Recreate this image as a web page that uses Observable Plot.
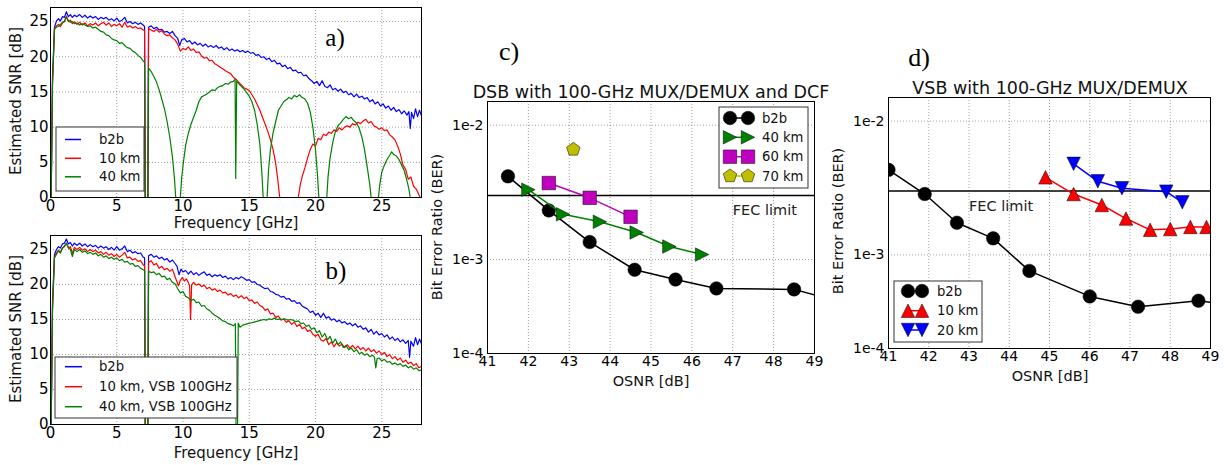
<!DOCTYPE html>
<html><head><meta charset="utf-8">
<script src="https://cdn.jsdelivr.net/npm/d3@7"></script>
<script src="https://cdn.jsdelivr.net/npm/@observablehq/plot@0.6"></script>
<style>
html,body{margin:0;padding:0;background:#fff;}
#fig{position:relative;width:1230px;height:465px;overflow:hidden;background:#fff;}
#fig > svg{position:absolute;overflow:visible;}
</style></head><body><div id="fig"></div>
<script>
// ---------- Panel a) SNR spectra, DSB ----------
const aB2b = [[0.05,0],[0.15,17],[0.3,24.2],[0.45,25.1],[0.6,25.4],[0.75,25.1],[0.9,25.7],[1.05,25.6],[1.2,26.4],[1.35,25.7],[1.5,26.0],[1.65,25.6],[1.8,25.9],[2.0,25.7],[2.2,26.0],[2.4,25.6],[2.6,25.9],[2.8,25.5],[3.0,25.8],[3.2,25.5],[3.4,25.7],[3.6,25.3],[3.8,25.6],[4.0,25.4],[4.2,25.6],[4.4,25.2],[4.6,25.4],[4.8,25.1],[5.0,25.5],[5.2,25.0],[5.4,25.2],[5.6,25.6],[5.8,24.8],[6.0,25.0],[6.2,24.7],[6.4,24.9],[6.6,24.6],[6.8,24.8],[7.0,24.5],[7.1,24.3],[7.15,0],[7.35,0],[7.4,24.2],[7.6,24.4],[7.8,24.0],[8.0,24.2],[8.2,23.8],[8.4,23.9],[8.6,23.5],[8.8,23.6],[9.0,23.3],[9.2,23.6],[9.4,23.0],[9.6,22.6],[9.75,21.6],[9.9,22.4],[10.1,22.6],[10.3,22.1],[10.5,22.3],[10.7,21.8],[10.9,22.1],[11.1,21.7],[11.3,21.9],[11.5,21.5],[11.7,21.8],[11.9,21.4],[12.1,21.6],[12.3,21.3],[12.5,21.6],[12.7,21.2],[12.9,21.4],[13.1,21.0],[13.3,21.3],[13.5,20.9],[13.7,21.1],[13.9,20.8],[14.1,21.0],[14.3,20.7],[14.5,20.9],[14.7,20.6],[14.9,20.8],[15.1,20.5],[15.3,20.6],[15.5,20.2],[15.7,20.3],[15.9,19.9],[16.1,20.0],[16.3,19.6],[16.5,19.8],[16.7,19.3],[16.9,19.5],[17.1,19.0],[17.3,19.1],[17.5,18.6],[17.7,18.8],[17.9,18.3],[18.1,18.5],[18.3,18.0],[18.5,18.1],[18.7,17.7],[18.9,17.8],[19.1,17.3],[19.3,17.4],[19.5,16.9],[19.7,16.6],[19.9,16.2],[20.1,16.5],[20.3,15.9],[20.5,16.6],[20.7,15.8],[20.9,15.6],[21.1,16.0],[21.3,15.3],[21.5,15.5],[21.7,15.1],[21.9,15.4],[22.1,14.9],[22.3,15.1],[22.5,14.6],[22.7,14.8],[22.9,14.3],[23.1,14.7],[23.3,14.2],[23.5,14.4],[23.7,14.0],[23.9,14.2],[24.1,13.6],[24.3,13.9],[24.5,13.3],[24.7,13.6],[24.9,13.0],[25.1,13.3],[25.3,12.7],[25.5,13.0],[25.7,12.4],[25.9,12.8],[26.1,12.2],[26.3,12.5],[26.5,11.9],[26.7,12.3],[26.9,11.7],[27.05,12.2],[27.15,9.8],[27.25,12.1],[27.4,11.2],[27.55,12.6],[27.7,11.5],[27.85,12.4],[28.0,11.6]];
const a10km = [[0.05,0],[0.15,16],[0.3,24.0],[0.45,24.4],[0.6,24.6],[0.75,24.3],[0.9,24.8],[1.05,25.0],[1.2,25.8],[1.35,25.0],[1.5,25.2],[1.65,24.7],[1.8,25.0],[2.0,24.6],[2.2,24.9],[2.4,24.5],[2.6,24.8],[2.8,24.4],[3.0,24.7],[3.2,24.5],[3.4,24.8],[3.6,24.4],[3.8,24.7],[4.0,24.9],[4.2,24.5],[4.4,24.8],[4.6,24.3],[4.8,24.6],[5.0,24.4],[5.2,24.7],[5.4,24.2],[5.6,24.9],[5.8,24.2],[6.0,24.4],[6.2,24.1],[6.4,24.3],[6.6,24.0],[6.8,24.1],[7.0,23.8],[7.1,23.7],[7.15,0],[7.35,0],[7.4,24.0],[7.6,23.8],[7.8,23.6],[8.0,23.9],[8.2,23.5],[8.4,23.7],[8.6,23.2],[8.8,23.0],[9.0,23.1],[9.2,22.7],[9.4,22.4],[9.6,21.8],[9.8,20.8],[10.0,21.2],[10.2,21.0],[10.4,21.4],[10.6,20.9],[10.8,21.1],[11.0,20.6],[11.2,20.7],[11.4,20.1],[11.6,19.8],[11.8,19.9],[12.0,19.4],[12.2,19.5],[12.4,19.0],[12.6,18.8],[12.8,18.5],[13.0,18.3],[13.2,18.0],[13.4,17.8],[13.6,17.6],[13.8,17.1],[14.0,16.8],[14.2,16.4],[14.4,16.0],[14.6,15.6],[14.8,15.4],[15.0,15.2],[15.2,14.6],[15.4,14.0],[15.6,13.2],[15.8,12.4],[16.0,11.4],[16.2,10.4],[16.4,9.4],[16.6,8.2],[16.8,6.8],[17.0,4.8],[17.15,2.6],[17.3,0],[18.0,null],[18.7,0],[18.85,1.8],[19.0,3.0],[19.2,4.2],[19.4,5.6],[19.6,6.8],[19.8,7.6],[20.0,7.3],[20.2,8.4],[20.4,8.2],[20.6,9.0],[20.8,8.8],[21.0,9.3],[21.2,9.1],[21.4,9.6],[21.6,9.4],[21.8,9.9],[22.0,9.6],[22.2,10.0],[22.4,10.2],[22.6,10.0],[22.8,10.5],[23.0,10.3],[23.2,10.7],[23.4,10.5],[23.6,10.9],[23.8,11.1],[24.0,10.6],[24.2,10.8],[24.4,10.2],[24.6,10.0],[24.8,9.7],[25.0,9.9],[25.2,9.5],[25.4,9.6],[25.6,8.9],[25.8,8.6],[26.0,8.2],[26.2,7.3],[26.4,6.2],[26.6,4.6],[26.8,4.0],[27.0,2.6],[27.2,2.9],[27.4,1.6],[27.6,1.2],[27.8,0.4],[27.9,0]];
const a40km = [[0.05,0],[0.15,16],[0.3,23.9],[0.45,24.2],[0.6,24.3],[0.75,24.6],[0.9,24.9],[1.05,25.0],[1.2,25.6],[1.35,25.1],[1.5,24.9],[1.65,25.0],[1.8,24.7],[2.0,24.8],[2.2,24.5],[2.4,24.7],[2.6,24.5],[2.8,24.3],[3.0,24.4],[3.2,24.1],[3.4,24.2],[3.6,23.9],[3.8,23.6],[4.0,23.5],[4.2,23.1],[4.4,23.0],[4.6,22.6],[4.8,22.4],[5.0,22.3],[5.2,21.9],[5.4,22.0],[5.6,21.6],[5.8,21.3],[6.0,21.2],[6.2,20.8],[6.4,20.6],[6.6,20.2],[6.8,19.9],[7.0,19.4],[7.1,19.2],[7.15,0],[7.35,0],[7.4,18.4],[7.6,17.9],[7.8,17.2],[8.0,16.4],[8.2,15.3],[8.4,14.0],[8.6,12.6],[8.8,10.8],[9.0,8.6],[9.2,5.8],[9.35,2.8],[9.45,0],[9.6,null],[9.8,0],[9.9,2.8],[10.05,5.3],[10.2,7.4],[10.4,9.1],[10.6,10.4],[10.8,11.4],[11.0,12.4],[11.2,13.6],[11.4,14.3],[11.6,14.5],[11.8,14.7],[12.0,15.0],[12.2,15.3],[12.4,15.2],[12.6,15.6],[12.8,15.8],[13.0,15.9],[13.2,16.2],[13.4,16.1],[13.6,16.4],[13.8,16.5],[13.93,16.8],[13.98,2.7],[14.05,16.5],[14.2,16.2],[14.4,15.8],[14.6,15.4],[14.8,14.9],[15.0,14.4],[15.2,13.6],[15.4,12.4],[15.6,10.4],[15.8,7.6],[15.95,3.6],[16.05,0],[16.2,null],[16.35,0],[16.45,3.8],[16.6,6.8],[16.8,9.2],[17.0,10.8],[17.2,12.4],[17.4,13.0],[17.6,13.6],[17.8,13.9],[18.0,14.2],[18.2,14.0],[18.4,14.5],[18.6,14.3],[18.8,14.6],[19.0,14.2],[19.2,14.0],[19.4,13.4],[19.6,12.2],[19.8,10.0],[20.0,6.8],[20.15,3.2],[20.25,0],[20.5,null],[20.85,0],[20.95,3.0],[21.1,5.6],[21.3,7.8],[21.5,9.4],[21.7,10.2],[21.9,10.6],[22.1,11.1],[22.3,11.5],[22.5,11.2],[22.7,11.4],[22.9,10.9],[23.1,10.6],[23.3,9.8],[23.5,8.6],[23.7,6.8],[23.9,4.4],[24.1,1.8],[24.2,0],[24.5,null],[24.75,0],[24.85,1.8],[25.0,3.6],[25.2,4.6],[25.4,5.4],[25.6,6.0],[25.75,6.5],[25.9,6.1],[26.1,5.9],[26.3,5.4],[26.5,4.6],[26.7,3.8],[26.9,2.4],[27.05,1.2],[27.15,0]];

// ---------- Panel b) SNR spectra, VSB 100GHz ----------
const bB2b = [[0.05,0],[0.15,17.5],[0.3,24.3],[0.45,25.0],[0.6,25.4],[0.75,25.2],[0.9,25.8],[1.05,25.9],[1.2,26.5],[1.35,25.8],[1.5,26.0],[1.65,25.5],[1.8,25.9],[2.0,25.6],[2.2,25.9],[2.4,25.5],[2.6,25.8],[2.8,25.4],[3.0,25.7],[3.2,25.4],[3.4,25.6],[3.6,25.2],[3.8,25.5],[4.0,25.2],[4.2,25.4],[4.4,25.0],[4.6,25.3],[4.8,24.9],[5.0,25.4],[5.2,24.9],[5.4,25.1],[5.6,25.5],[5.8,24.7],[6.0,24.9],[6.2,24.5],[6.4,24.7],[6.6,24.4],[6.8,24.5],[7.0,23.9],[7.1,23.8],[7.15,0],[7.35,0],[7.4,24.1],[7.6,24.3],[7.8,23.9],[8.0,24.1],[8.2,23.7],[8.4,23.9],[8.6,23.5],[8.8,23.7],[9.0,23.2],[9.2,23.5],[9.4,23.0],[9.55,22.6],[9.7,21.4],[9.85,22.2],[10.0,21.8],[10.2,22.0],[10.4,21.5],[10.6,21.9],[10.8,21.4],[11.0,21.7],[11.2,21.3],[11.4,21.6],[11.6,21.8],[11.8,21.3],[12.0,21.5],[12.2,21.1],[12.4,21.4],[12.6,21.2],[12.8,21.4],[13.0,21.0],[13.2,21.2],[13.4,20.8],[13.6,21.0],[13.8,20.7],[14.0,21.0],[14.2,20.8],[14.4,21.1],[14.6,20.9],[14.8,20.6],[15.0,20.7],[15.2,20.3],[15.4,20.4],[15.6,20.0],[15.8,19.9],[16.0,19.6],[16.2,19.4],[16.4,19.5],[16.6,19.0],[16.8,18.9],[17.0,18.6],[17.2,18.5],[17.4,18.2],[17.6,18.3],[17.8,17.9],[18.0,18.0],[18.2,17.6],[18.4,17.7],[18.6,17.3],[18.8,17.4],[19.0,16.9],[19.2,16.7],[19.4,16.5],[19.6,16.0],[19.8,16.2],[20.0,15.6],[20.2,15.9],[20.4,15.3],[20.6,15.9],[20.8,15.2],[21.0,15.4],[21.2,14.9],[21.4,15.1],[21.6,14.7],[21.8,14.9],[22.0,14.5],[22.2,14.7],[22.4,14.3],[22.6,14.5],[22.8,14.1],[23.0,14.4],[23.2,13.9],[23.4,14.1],[23.6,13.6],[23.8,13.8],[24.0,13.2],[24.2,13.6],[24.4,12.9],[24.6,13.3],[24.8,12.8],[25.0,13.0],[25.2,12.5],[25.4,12.8],[25.6,12.2],[25.8,12.5],[26.0,12.0],[26.2,12.3],[26.4,11.8],[26.6,12.1],[26.8,11.6],[27.0,12.0],[27.1,9.6],[27.2,11.9],[27.4,11.2],[27.55,12.4],[27.7,11.4],[27.85,12.2],[28.0,11.5]];
const b10km = [[0.05,0],[0.15,16.5],[0.3,24.0],[0.45,24.5],[0.6,24.9],[0.75,24.6],[0.9,25.2],[1.05,25.4],[1.2,25.9],[1.35,25.2],[1.5,25.4],[1.65,24.4],[1.8,25.3],[2.0,25.0],[2.2,25.3],[2.4,24.9],[2.6,25.1],[2.8,24.7],[3.0,25.0],[3.2,24.7],[3.4,24.9],[3.6,24.5],[3.8,24.7],[4.0,24.3],[4.2,24.6],[4.4,24.2],[4.6,24.4],[4.8,24.0],[5.0,24.3],[5.2,23.9],[5.4,24.2],[5.6,24.6],[5.8,23.8],[6.0,23.9],[6.2,23.5],[6.4,23.7],[6.6,23.3],[6.8,23.4],[7.0,22.8],[7.1,22.7],[7.15,0],[7.35,0],[7.4,23.2],[7.6,23.4],[7.8,22.8],[8.0,23.0],[8.2,22.3],[8.4,22.6],[8.6,22.1],[8.8,22.3],[9.0,21.9],[9.2,22.2],[9.35,21.4],[9.5,20.6],[9.65,19.8],[9.8,20.6],[9.95,21.0],[10.1,20.5],[10.25,20.8],[10.4,20.3],[10.5,19.8],[10.57,15.0],[10.65,19.9],[10.8,20.3],[11.0,19.9],[11.2,20.1],[11.4,19.7],[11.6,19.9],[11.8,19.4],[12.0,19.6],[12.2,19.2],[12.4,19.4],[12.6,19.0],[12.8,19.2],[13.0,18.8],[13.2,18.9],[13.4,18.5],[13.6,18.7],[13.8,18.3],[14.0,18.5],[14.2,18.1],[14.4,18.4],[14.6,18.0],[14.8,18.2],[15.0,17.7],[15.2,17.8],[15.4,17.3],[15.6,17.5],[15.8,17.0],[16.0,16.8],[16.2,16.3],[16.4,16.5],[16.6,15.8],[16.8,15.9],[17.0,15.3],[17.2,15.5],[17.4,14.9],[17.6,15.1],[17.8,14.6],[18.0,14.8],[18.2,14.3],[18.4,14.6],[18.6,14.0],[18.8,14.3],[19.0,13.7],[19.2,13.9],[19.4,13.3],[19.6,13.5],[19.8,12.9],[20.0,12.6],[20.2,12.9],[20.4,12.1],[20.6,11.9],[20.8,12.3],[21.0,11.4],[21.2,11.8],[21.4,11.1],[21.6,11.7],[21.8,11.2],[22.0,11.5],[22.2,11.0],[22.4,11.4],[22.6,10.9],[22.8,11.3],[23.0,10.8],[23.2,11.2],[23.4,10.7],[23.6,11.0],[23.8,10.5],[24.0,10.9],[24.2,10.4],[24.4,10.7],[24.6,10.2],[24.8,10.5],[25.0,10.0],[25.2,10.3],[25.4,9.7],[25.6,10.0],[25.8,9.4],[26.0,9.7],[26.2,9.2],[26.4,9.5],[26.6,8.9],[26.8,9.2],[27.0,8.7],[27.2,8.9],[27.4,8.4],[27.6,8.7],[27.8,8.1],[28.0,8.3]];
const b40km = [[0.05,0],[0.15,16],[0.3,23.8],[0.45,24.3],[0.6,24.8],[0.75,24.5],[0.9,25.2],[1.05,25.5],[1.2,25.9],[1.35,25.3],[1.5,25.0],[1.65,24.0],[1.8,25.0],[2.0,24.7],[2.2,25.0],[2.4,24.6],[2.6,24.8],[2.8,24.4],[3.0,24.6],[3.2,24.3],[3.4,24.5],[3.6,24.1],[3.8,24.3],[4.0,23.9],[4.2,24.1],[4.4,23.7],[4.6,23.9],[4.8,23.6],[5.0,23.8],[5.2,23.4],[5.4,23.6],[5.6,23.2],[5.8,23.3],[6.0,22.9],[6.2,23.0],[6.4,22.6],[6.6,22.7],[6.8,22.3],[7.0,22.1],[7.1,22.0],[7.15,0],[7.35,0],[7.4,21.9],[7.6,21.7],[7.8,21.8],[8.0,21.4],[8.2,21.6],[8.4,21.1],[8.6,21.2],[8.8,20.7],[9.0,20.9],[9.2,20.3],[9.4,20.1],[9.6,19.4],[9.8,18.8],[10.0,19.0],[10.2,18.3],[10.4,18.1],[10.6,17.7],[10.8,17.9],[11.0,17.4],[11.2,17.5],[11.4,16.9],[11.6,17.0],[11.8,16.5],[12.0,16.3],[12.2,15.9],[12.4,15.6],[12.6,15.4],[12.8,15.1],[13.0,14.8],[13.2,14.7],[13.4,14.4],[13.6,14.3],[13.8,14.1],[13.95,14.4],[14.0,0],[14.12,0],[14.17,14.5],[14.3,13.9],[14.5,14.2],[14.7,14.3],[14.9,14.4],[15.1,14.5],[15.3,14.6],[15.5,14.7],[15.7,14.8],[15.9,14.9],[16.1,15.0],[16.3,14.9],[16.5,15.1],[16.7,15.0],[16.9,15.2],[17.1,15.0],[17.3,15.1],[17.5,15.0],[17.7,15.1],[17.9,14.9],[18.1,15.0],[18.3,14.9],[18.5,14.7],[18.7,14.8],[18.9,14.4],[19.1,14.5],[19.3,14.0],[19.5,14.2],[19.7,13.6],[19.9,13.8],[20.1,13.1],[20.3,13.4],[20.5,12.5],[20.7,13.0],[20.9,12.1],[21.1,12.6],[21.3,11.6],[21.5,12.2],[21.7,11.4],[21.9,11.8],[22.1,11.0],[22.3,11.3],[22.5,10.7],[22.7,10.9],[22.9,10.4],[23.1,10.7],[23.3,10.1],[23.5,10.3],[23.7,9.9],[23.9,10.1],[24.1,9.7],[24.3,9.9],[24.45,9.6],[24.55,8.1],[24.65,9.4],[24.8,9.5],[25.0,9.1],[25.2,9.3],[25.4,8.9],[25.6,9.0],[25.8,8.6],[26.0,8.8],[26.2,8.5],[26.4,8.7],[26.6,8.3],[26.8,8.5],[27.0,8.1],[27.2,8.3],[27.4,7.9],[27.6,8.1],[27.8,7.7],[28.0,7.8]];

const freqTicks = [0, 5, 10, 15, 20, 25];
const snrTicks = [0, 5, 10, 15, 20, 25];
const freqDomain = [0, 28];
const snrDomain = [0, 27];

// ---------- Panel c) BER, DSB ----------
const osnrC_b2b = [41.5, 42.5, 43.5, 44.6, 45.6, 46.6, 48.5, 50.5];
const berC_b2b  = [4.16e-3, 2.32e-3, 1.35e-3, 8.4e-4, 7.1e-4, 6.1e-4, 6.0e-4, 4.1e-4];
const osnrC_40  = [42.0, 42.85, 43.75, 44.65, 45.45, 46.25];
const berC_40   = [3.31e-3, 2.17e-3, 1.91e-3, 1.59e-3, 1.25e-3, 1.09e-3];
const osnrC_60  = [42.5, 43.5, 44.5];
const berC_60   = [3.71e-3, 2.88e-3, 2.08e-3];
const osnrC_70  = [43.1];
const berC_70   = [6.6e-3];

// ---------- Panel d) BER, VSB ----------
const osnrD_b2b = [41.0, 41.9, 42.7, 43.6, 44.5, 46.0, 47.2, 48.7, 50.3];
const berD_b2b  = [4.32e-3, 2.85e-3, 1.74e-3, 1.33e-3, 7.6e-4, 4.9e-4, 4.1e-4, 4.55e-4, 3.9e-4];
const osnrD_10  = [44.9, 45.6, 46.3, 46.9, 47.5, 48.0, 48.5, 48.9];
const berD_10   = [3.8e-3, 2.85e-3, 2.36e-3, 1.87e-3, 1.54e-3, 1.56e-3, 1.62e-3, 1.62e-3];
const osnrD_20  = [45.6, 46.2, 46.8, 47.9, 48.3];
const berD_20   = [4.79e-3, 3.55e-3, 3.15e-3, 2.97e-3, 2.47e-3];

const fecLimit = 3.0e-3;
const osnrDomain = [41, 49];
const osnrTicks = [41, 42, 43, 44, 45, 46, 47, 48, 49];
const berDomain = [2e-4, 1.5e-2];
const berTicks = [2e-4, 1e-3, 1e-2];
const berTickLabels = ["1e-4", "1e-3", "1e-2"];
const berGridValues = [1e-3, 1e-2];

const titles = {c: "DSB with 100-GHz MUX/DEMUX and DCF", d: "VSB with 100-GHz MUX/DEMUX"};

// ---------- helpers ----------
const FONT = "DejaVu Sans";
const C = {blue:"#0000ff", red:"#ff0000", green:"#008000", black:"#000000", magenta:"#bf00bf", yellow:"#bfbf00"};
const rad = s => Math.sqrt(s / Math.PI);
const symCircle = {draw(c, s){const r=rad(s); c.moveTo(r,0); c.arc(0,0,r,0,2*Math.PI);}};
const symSquare = {draw(c, s){const r=rad(s); c.moveTo(-r,-r); c.lineTo(r,-r); c.lineTo(r,r); c.lineTo(-r,r); c.closePath();}};
const symTriRight = {draw(c, s){const r=rad(s); c.moveTo(r,0); c.lineTo(-r,-r); c.lineTo(-r,r); c.closePath();}};
const symTriUp = {draw(c, s){const r=rad(s); c.moveTo(0,-r); c.lineTo(r,r); c.lineTo(-r,r); c.closePath();}};
const symTriDown = {draw(c, s){const r=rad(s); c.moveTo(0,r); c.lineTo(r,-r); c.lineTo(-r,-r); c.closePath();}};
const symPent = {draw(c, s){const r=rad(s)*1.05; for(let k=0;k<5;k++){const a=(-90+72*k)*Math.PI/180; const x=r*Math.cos(a), y=r*Math.sin(a); if(k===0) c.moveTo(x,y); else c.lineTo(x,y);} c.closePath();}};
const MR = 6.75;

const fig = document.getElementById("fig");
const zip = (xs, ys) => xs.map((x, i) => ({x, y: ys[i]}));

function snrPanel(series, top, height, mb) {
  const svg = Plot.plot({
    width: 430, height,
    marginLeft: 50, marginRight: 9, marginTop: 7, marginBottom: mb,
    x: {domain: freqDomain},
    y: {domain: snrDomain},
    style: {fontFamily: FONT, fontSize: "15px", background: "transparent", overflow: "visible"},
    marks: [
      Plot.gridX({ticks: freqTicks.slice(1), stroke: "#777", strokeOpacity: 1, strokeWidth: 0.7, strokeDasharray: "1,2"}),
      Plot.gridY({ticks: snrTicks.slice(1), stroke: "#777", strokeOpacity: 1, strokeWidth: 0.7, strokeDasharray: "1,2"}),
      ...series.map(([data, color]) => Plot.line(data, {x: d => d[0], y: d => d[1], stroke: color, strokeWidth: 1.2, clip: true})),
      Plot.axisX({ticks: freqTicks, tickSize: 0, tickPadding: 3, fontSize: 15, label: null, tickFormat: d => String(d)}),
      Plot.axisY({ticks: snrTicks, tickSize: 0, tickPadding: 2, fontSize: 15, label: null, tickFormat: d => String(d)}),
      Plot.frame({stroke: "#000", strokeWidth: 1})
    ]
  });
  svg.style.left = "0px"; svg.style.top = top + "px";
  fig.appendChild(svg);
}

snrPanel([[aB2b, C.blue], [a10km, C.red], [a40km, C.green]], 0, 230, 33);
snrPanel([[bB2b, C.blue], [b10km, C.red], [b40km, C.green]], 228, 237, 41);

const labelMap = new Map(berTicks.map((t, i) => [t, berTickLabels[i]]));
function berPanel(series, fecText, pos) {
  const marks = [
    Plot.gridX({ticks: osnrTicks.slice(1, -1), stroke: "#777", strokeOpacity: 1, strokeWidth: 0.7, strokeDasharray: "1,2"}),
    Plot.gridY({ticks: berGridValues, stroke: "#777", strokeOpacity: 1, strokeWidth: 0.7, strokeDasharray: "1,2"}),
    Plot.ruleY([fecLimit], {stroke: "#000", strokeWidth: 1.5})
  ];
  for (const s of series) {
    const data = zip(s.x, s.y);
    if (data.length > 1) marks.push(Plot.line(data, {x: "x", y: "y", stroke: s.color, strokeWidth: 1.5, clip: true}));
    marks.push(Plot.dot(data, {x: "x", y: "y", r: MR, symbol: s.symbol, fill: s.color, stroke: "#000", strokeWidth: 0.5, clip: true}));
  }
  marks.push(
    Plot.text([fecText], {x: "x", y: "y", text: "text", textAnchor: "start", lineAnchor: "middle", fontSize: 14.5, fill: "#222"}),
    Plot.axisX({ticks: osnrTicks, tickSize: 0, tickPadding: 3, fontSize: 14, label: null, tickFormat: d => String(d)}),
    Plot.axisY({ticks: berTicks, tickSize: 0, tickPadding: 4, fontSize: 14, label: null, tickFormat: d => labelMap.get(d)}),
    Plot.frame({stroke: "#000", strokeWidth: 1})
  );
  const svg = Plot.plot({
    width: pos.w, height: pos.h,
    marginLeft: pos.ml, marginRight: pos.mr, marginTop: pos.mt, marginBottom: pos.mb,
    x: {domain: osnrDomain},
    y: {type: "log", domain: berDomain},
    style: {fontFamily: FONT, fontSize: "14px", background: "transparent", overflow: "visible"},
    marks
  });
  svg.style.left = pos.left + "px"; svg.style.top = pos.top + "px";
  fig.appendChild(svg);
}

const seriesC = [
  {name: "b2b", x: osnrC_b2b, y: berC_b2b, color: C.black, symbol: symCircle},
  {name: "40 km", x: osnrC_40, y: berC_40, color: C.green, symbol: symTriRight},
  {name: "60 km", x: osnrC_60, y: berC_60, color: C.magenta, symbol: symSquare},
  {name: "70 km", x: osnrC_70, y: berC_70, color: C.yellow, symbol: symPent}
];
const seriesD = [
  {name: "b2b", x: osnrD_b2b, y: berD_b2b, color: C.black, symbol: symCircle},
  {name: "10 km", x: osnrD_10, y: berD_10, color: C.red, symbol: symTriUp},
  {name: "20 km", x: osnrD_20, y: berD_20, color: C.blue, symbol: symTriDown}
];
berPanel(seriesC, {x: 47.0, y: 2.33e-3, text: "FEC limit"}, {left: 420, top: 60, w: 410, h: 330, ml: 67, mr: 16, mt: 41, mb: 37});
berPanel(seriesD, {x: 43.0, y: 2.29e-3, text: "FEC limit"}, {left: 830, top: 60, w: 400, h: 330, ml: 58, mr: 20, mt: 37, mb: 42});

// ---------- overlay: labels, titles, legends ----------
const ov = d3.create("svg").attr("width", 1230).attr("height", 465)
  .style("left", "0px").style("top", "0px").style("pointer-events", "none")
  .attr("font-family", FONT);

function txt(x, y, s, size, opts = {}) {
  const t = ov.append("text").attr("x", x).attr("y", y).attr("font-size", size).attr("fill", opts.fill || "#111").text(s);
  if (opts.anchor) t.attr("text-anchor", opts.anchor);
  if (opts.family) t.attr("font-family", opts.family);
  if (opts.rotate) t.attr("transform", `rotate(-90 ${x} ${y})`);
  return t;
}
// axis labels
txt(21, 101, "Estimated SNR [dB]", 15, {anchor: "middle", rotate: true});
txt(21, 329, "Estimated SNR [dB]", 15, {anchor: "middle", rotate: true});
txt(236, 228, "Frequency [GHz]", 15, {anchor: "middle"});
txt(236, 458, "Frequency [GHz]", 15, {anchor: "middle"});
txt(442, 227, "Bit Error Ratio (BER)", 14.5, {anchor: "middle", rotate: true});
txt(843, 221, "Bit Error Ratio (BER)", 14.5, {anchor: "middle", rotate: true});
txt(651, 386, "OSNR [dB]", 14.5, {anchor: "middle"});
txt(1050, 381, "OSNR [dB]", 14.5, {anchor: "middle"});
// titles
txt(651, 97.5, titles.c, 17.5, {anchor: "middle"});
txt(1050, 94, titles.d, 17.5, {anchor: "middle"});
// panel letters
const serif = "Liberation Serif";
txt(335, 46, "a)", 25, {anchor: "middle", family: serif, fill: "#000"});
txt(336, 279, "b)", 25, {anchor: "middle", family: serif, fill: "#000"});
txt(509, 60, "c)", 26, {anchor: "middle", family: serif, fill: "#000"});
txt(919, 66, "d)", 26, {anchor: "middle", family: serif, fill: "#000"});

function lineLegend(box, rows, items) {
  ov.append("rect").attr("x", box.x).attr("y", box.y).attr("width", box.w).attr("height", box.h)
    .attr("fill", "#fff").attr("stroke", "#333").attr("stroke-width", 1);
  items.forEach((it, i) => {
    ov.append("line").attr("x1", box.s1).attr("x2", box.s2).attr("y1", rows[i]).attr("y2", rows[i])
      .attr("stroke", it.color).attr("stroke-width", 1.5);
    txt(box.tx, rows[i], it.name, 13.2).attr("dy", "0.35em");
  });
}
function markerLegend(box, rows, items) {
  ov.append("rect").attr("x", box.x).attr("y", box.y).attr("width", box.w).attr("height", box.h)
    .attr("fill", "#fff").attr("stroke", "#333").attr("stroke-width", 1);
  items.forEach((it, i) => {
    const y = rows[i];
    ov.append("line").attr("x1", box.m1).attr("x2", box.m2).attr("y1", y).attr("y2", y)
      .attr("stroke", it.color).attr("stroke-width", 1.5);
    for (const mx of [box.m1, box.m2]) {
      const p = d3.path(); it.symbol.draw(p, MR * MR * Math.PI);
      ov.append("path").attr("d", p.toString()).attr("transform", `translate(${mx},${y})`)
        .attr("fill", it.color).attr("stroke", "#000").attr("stroke-width", 0.5);
    }
    txt(box.tx, y, it.name, 13.2).attr("dy", "0.35em");
  });
}
lineLegend({x: 56, y: 127, w: 88, h: 64, s1: 65, s2: 81, tx: 99}, [139.5, 158.3, 176.8],
  [{name: "b2b", color: C.blue}, {name: "10 km", color: C.red}, {name: "40 km", color: C.green}]);
lineLegend({x: 55, y: 357, w: 182, h: 61, s1: 65, s2: 82, tx: 99}, [366.7, 386.7, 406.7],
  [{name: "b2b", color: C.blue}, {name: "10 km, VSB 100GHz", color: C.red}, {name: "40 km, VSB 100GHz", color: C.green}]);
markerLegend({x: 719, y: 107, w: 89, h: 81, m1: 730, m2: 748, tx: 762}, [118, 137.3, 156.7, 176], seriesC);
markerLegend({x: 894, y: 281, w: 88, h: 61, m1: 908, m2: 922, tx: 937}, [291, 310.7, 330], seriesD);

fig.appendChild(ov.node());
</script></body></html>
